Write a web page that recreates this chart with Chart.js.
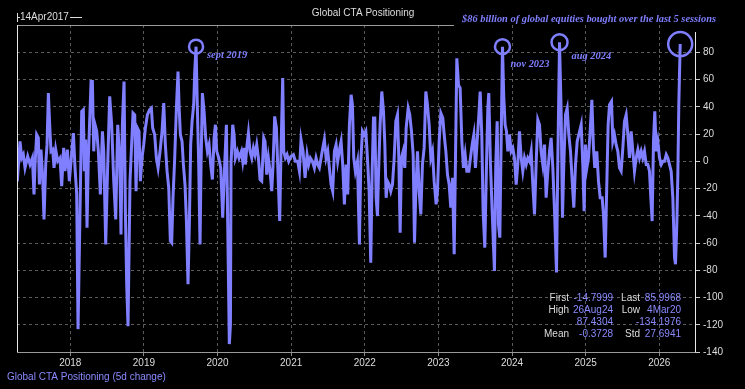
<!DOCTYPE html>
<html>
<head>
<meta charset="utf-8">
<script src="https://cdn.jsdelivr.net/npm/chart.js@4.4.1/dist/chart.umd.min.js"></script>
<style>
  html, body { margin: 0; padding: 0; background: #000; }
  #wrap { width: 745px; height: 389px; }
</style>
</head>
<body>
<div id="wrap"><canvas id="ctaChart" width="745" height="389"></canvas></div>
<script>
// dates as decimal years, values = 5d change in CTA positioning ($bn)
const dates = [
  2017.280, 2017.317, 2017.340, 2017.362, 2017.385, 2017.421, 2017.453, 2017.485, 2017.507, 2017.521,
  2017.543, 2017.566, 2017.580, 2017.602, 2017.625, 2017.643, 2017.666, 2017.684, 2017.702, 2017.720,
  2017.738, 2017.761, 2017.779, 2017.802, 2017.829, 2017.860, 2017.883, 2017.910, 2017.928, 2017.960,
  2017.987, 2018.010, 2018.042, 2018.064, 2018.087, 2018.105, 2018.123, 2018.141, 2018.155, 2018.177,
  2018.191, 2018.209, 2018.227, 2018.245, 2018.263, 2018.282, 2018.300, 2018.318, 2018.336, 2018.359,
  2018.381, 2018.408, 2018.436, 2018.454, 2018.481, 2018.508, 2018.535, 2018.562, 2018.590, 2018.617,
  2018.644, 2018.671, 2018.689, 2018.707, 2018.730, 2018.748, 2018.766, 2018.784, 2018.811, 2018.829,
  2018.852, 2018.875, 2018.893, 2018.911, 2018.933, 2018.952, 2018.974, 2018.997, 2019.020, 2019.047,
  2019.078, 2019.101, 2019.119, 2019.146, 2019.169, 2019.192, 2019.219, 2019.246, 2019.269, 2019.291,
  2019.314, 2019.337, 2019.359, 2019.377, 2019.395, 2019.418, 2019.441, 2019.463, 2019.477, 2019.495,
  2019.518, 2019.536, 2019.558, 2019.577, 2019.599, 2019.617, 2019.635, 2019.654, 2019.676, 2019.690,
  2019.708, 2019.726, 2019.744, 2019.762, 2019.776, 2019.794, 2019.817, 2019.839, 2019.862, 2019.885,
  2019.907, 2019.930, 2019.953, 2019.971, 2019.989, 2020.016, 2020.043, 2020.070, 2020.097, 2020.120,
  2020.160, 2020.175, 2020.183, 2020.206, 2020.224, 2020.242, 2020.269, 2020.292, 2020.324, 2020.342,
  2020.364, 2020.378, 2020.401, 2020.419, 2020.441, 2020.464, 2020.487, 2020.509, 2020.532, 2020.555,
  2020.577, 2020.600, 2020.627, 2020.645, 2020.668, 2020.690, 2020.713, 2020.736, 2020.754, 2020.776,
  2020.799, 2020.817, 2020.844, 2020.862, 2020.885, 2020.899, 2020.921, 2020.944, 2020.967, 2020.998,
  2021.030, 2021.057, 2021.089, 2021.112, 2021.134, 2021.161, 2021.189, 2021.216, 2021.238, 2021.261,
  2021.288, 2021.315, 2021.338, 2021.361, 2021.383, 2021.406, 2021.429, 2021.451, 2021.474, 2021.497,
  2021.519, 2021.542, 2021.564, 2021.587, 2021.610, 2021.632, 2021.660, 2021.678, 2021.700, 2021.723,
  2021.746, 2021.768, 2021.791, 2021.814, 2021.832, 2021.850, 2021.872, 2021.900, 2021.927, 2021.946,
  2021.968, 2021.991, 2022.014, 2022.036, 2022.059, 2022.081, 2022.100, 2022.118, 2022.136, 2022.154,
  2022.172, 2022.186, 2022.208, 2022.231, 2022.254, 2022.272, 2022.290, 2022.308, 2022.331, 2022.353,
  2022.376, 2022.399, 2022.421, 2022.444, 2022.462, 2022.480, 2022.498, 2022.521, 2022.543, 2022.562,
  2022.589, 2022.611, 2022.634, 2022.657, 2022.675, 2022.693, 2022.716, 2022.738, 2022.761, 2022.783,
  2022.806, 2022.829, 2022.851, 2022.874, 2022.897, 2022.919, 2022.942, 2022.969, 2022.987, 2023.010,
  2023.033, 2023.060, 2023.078, 2023.101, 2023.123, 2023.146, 2023.168, 2023.191, 2023.214, 2023.232,
  2023.250, 2023.273, 2023.295, 2023.318, 2023.340, 2023.363, 2023.386, 2023.413, 2023.435, 2023.458,
  2023.481, 2023.503, 2023.526, 2023.549, 2023.567, 2023.589, 2023.607, 2023.630, 2023.653, 2023.671,
  2023.684, 2023.707, 2023.730, 2023.761, 2023.779, 2023.798, 2023.816, 2023.834, 2023.852, 2023.870,
  2023.888, 2023.906, 2023.924, 2023.943, 2023.965, 2023.988, 2024.010, 2024.033, 2024.056, 2024.078,
  2024.101, 2024.124, 2024.146, 2024.169, 2024.192, 2024.214, 2024.237, 2024.260, 2024.282, 2024.305,
  2024.327, 2024.350, 2024.373, 2024.395, 2024.418, 2024.441, 2024.463, 2024.486, 2024.509, 2024.531,
  2024.554, 2024.577, 2024.604, 2024.622, 2024.645, 2024.667, 2024.685, 2024.703, 2024.726, 2024.749,
  2024.771, 2024.794, 2024.817, 2024.839, 2024.862, 2024.885, 2024.907, 2024.939, 2024.961, 2024.979,
  2024.997, 2025.016, 2025.038, 2025.061, 2025.084, 2025.106, 2025.124, 2025.151, 2025.174, 2025.197,
  2025.224, 2025.242, 2025.265, 2025.287, 2025.305, 2025.324, 2025.351, 2025.369, 2025.391, 2025.414,
  2025.437, 2025.459, 2025.482, 2025.505, 2025.527, 2025.550, 2025.573, 2025.595, 2025.618, 2025.641,
  2025.663, 2025.686, 2025.709, 2025.731, 2025.754, 2025.776, 2025.799, 2025.822, 2025.844, 2025.867,
  2025.885, 2025.903, 2025.921, 2025.939, 2025.958, 2025.980, 2026.003, 2026.026, 2026.048, 2026.071,
  2026.094, 2026.116, 2026.139, 2026.161, 2026.184, 2026.207, 2026.220, 2026.238, 2026.252, 2026.265,
  2026.284
];

const values = [
  -14.8, 14.6, 2.4, 4.9, -4.9, 3.7, -2.4, 2.4, -24.4, -2.4,
  19.5, 17.1, -17.1, 8.5, -12.2, -42.7, -2.4, 12.2, 50.0, 26.8,
  7.3, 8.5, -4.9, 8.5, 0, 2.4, -18.3, 9.8, -7.3, 8.5,
  -14.6, 0, 20.7, -4.9, -24.4, -123.2, -65.9, -7.3, 36.6, 37.8,
  -7.3, 15.9, -48.8, 2.4, 29.3, 58.5, 58.5, 7.3, 26.8, 22,
  7.3, -24.4, 22, 7.3, -61, -2.4, 47.6, 26.8, -14.6, -42.7,
  26.8, 2.4, -53.7, 26.8, 58.5, -36.6, -90.2, -121, -14.6, 7.3,
  35.4, 34.1, -22, 24.4, 22, -14.6, 2.4, 12.2, 24.4, 34.1,
  37.8, 39, 24.4, 19.5, 2.4, -4.9, 7.3, 22, 42.7, 12.2,
  -7.3, -19.5, -58.5, -59.8, -26.8, 2.4, 39, 65.9, 41.5, 19.5,
  14.6, -2.4, -17.1, -43.9, -90.2, -46.3, 12.2, 29.3, 41.5, 65.9,
  84.1, 39, -2.4, -61, -2.4, 50, 36.6, 17.1, 7.3, 12.2,
  -2.4, -13.4, 17.1, 26.8, 7.3, 2.4, -4.9, -41.5, -2.4, 26.8,
  -134.2, -120, -2.4, 26.8, 19.5, 2.4, 7.3, 2.4, 7.3, 0,
  9.8, -2.4, 12.2, 20.7, 7.3, 2.4, 9.8, 4.9, 12.2, 2.4,
  -13.4, -14.6, 17.1, 14.6, -9.8, 2.4, -7.3, -22, -2.4, 32.9,
  24.4, -2.4, -43.9, 7.3, 61, 7.3, 2.4, 4.9, 0, 3.7,
  4.9, 0, 0, -7.3, 15.9, 7.3, -12.2, 4.9, -2.4, 2.4,
  0, -4.9, 2.4, -2.4, -4.9, 2.4, 9.8, 15.9, 2.4, 7.3,
  -4.9, -17.1, -22, 7.3, 12.2, 0, 9.8, 14.6, -2.4, -31.7,
  -2.4, -24.4, 26.8, 48.8, 41.5, 2.4, -7.3, 0, -61, 0,
  22, 19.5, 22, 2.4, -22, -74.4, -7.3, 31.7, 31.7, -26.8,
  -40.2, -9.8, 26.8, 51.2, 36.6, 12.2, -26.8, -14.6, -17.1, -22,
  -17.1, 2.4, 29.3, 34.1, 2.4, -52.4, 2.4, 7.3, -4.9, 24.4,
  39, 34.1, 22, 4.9, -59.8, -22, 7.3, -22, -39, -2.4,
  9.8, 51.2, 41.5, 26.8, 2.4, 7.3, -14.6, -31.7, -22, 14.6,
  35.4, 31.7, 19.5, 7.3, -9.8, -17.1, -34.1, -12.2, -68.3, 2.4,
  75.6, 56.1, 53.7, 14.6, -4.9, 4.9, -7.3, -7.3, 2.4, 12.2,
  19.5, -4.9, 14.6, 34.1, 51.2, 19.5, -36.6, -63.4, -2.4, 39,
  50, -2.4, -36.6, -80.5, -2.4, 29.3, -46.3, -56.1, 14.6, 84.1,
  46.3, 26.8, 22, 7.3, 19.5, 7.3, 9.8, 2.4, -17.1, -2.4,
  22, 2.4, -7.3, 2.4, -2.4, 2.4, 0, 7.3, -17.1, -39,
  -2.4, 30.5, 26.8, 7.3, -2.4, 12.2, -26.8, -7.3, 7.3, 17.1,
  -4.9, -36.6, -81.7, 2.4, 87.4, 36.6, -41.5, -2.4, 34.1, 39,
  19.5, 7.3, -14.6, -34.1, -2.4, 14.6, 19.5, 26.8, -2.4, -36.6,
  12.2, -4.9, 2.4, 22, 45.1, 9.8, -4.9, 7.3, -14.6, -26.8,
  -26.8, -39, -70.7, -17.1, 26.8, 41.5, 43.9, 14.6, 19.5, 12.2,
  7.3, -4.9, -7.3, 9.8, 29.3, 34.1, 19.5, 2.4, 22, 7.3,
  -7.3, 2.4, 8.5, 2.4, 7.3, 2.4, 7.3, -2.4, -2.4, -7.3,
  -26.8, -43.9, 14.6, 36.6, 7.3, 14.6, 2.4, -2.4, 0, 0,
  4.9, 2.4, -2.4, -7.3, -26.8, -70.7, -75.6, -46.3, -9.8, 41.5,
  86.0
];

const yearTicks = [2018, 2019, 2020, 2021, 2022, 2023, 2024, 2025, 2026];

// circled peaks and their notes
const noteDates = [2019.708, 2023.870, 2024.645, 2026.284];
const noteLabels = ['sept 2019', 'nov 2023', 'aug 2024', ''];

const statRows = [
  ['First', '-14.7999', 'Last', '85.9968'],
  ['High', '26Aug24', 'Low', '4Mar20'],
  ['', '87.4304', '', '-134.1976'],
  ['Mean', '-0.3728', 'Std', '27.6941']
];

const lineColor = '#7f7fff';
const gridColor = '#5a5a5a';
const textColor = '#dddddd';
const sans = '"Liberation Sans", Arial, sans-serif';
const serif = '"Liberation Serif", "Times New Roman", serif';

const decor = {
  id: 'decor',
  afterDraw(chart) {
    const c = chart.ctx;
    const a = chart.chartArea;
    const xs = chart.scales.x, ys = chart.scales.y;
    c.save();

    // frame
    c.lineWidth = 1;
    c.strokeStyle = '#9a9a9a';
    c.beginPath(); c.moveTo(a.left, 25.5); c.lineTo(454, 25.5); c.stroke();
    c.beginPath(); c.moveTo(a.left, a.bottom + 0.5); c.lineTo(a.right, a.bottom + 0.5); c.stroke();
    c.strokeStyle = '#e8e8e8';
    c.beginPath(); c.moveTo(a.left + 0.5, a.top); c.lineTo(a.left + 0.5, a.bottom); c.stroke();
    c.beginPath(); c.moveTo(a.right + 0.5, 32); c.lineTo(a.right + 0.5, a.bottom); c.stroke();

    // header
    c.fillStyle = textColor;
    c.font = '10px ' + sans;
    c.textBaseline = 'middle';
    c.textAlign = 'left';
    c.fillText('14Apr2017', 20, 17);
    c.strokeStyle = textColor;
    c.beginPath(); c.moveTo(17.5, 13); c.lineTo(17.5, 22); c.moveTo(17, 17.5); c.lineTo(20, 17.5);
    c.moveTo(70, 17.5); c.lineTo(82, 17.5); c.stroke();
    c.textAlign = 'center';
    c.fillText('Global CTA Positioning', 363, 13);

    c.fillStyle = lineColor;
    c.font = 'italic bold 10.4px ' + serif;
    c.textAlign = 'left';
    c.fillText('$86 billion of global equities bought over the last 5 sessions', 462, 19);

    // circles + labels
    const offs = [[11, 9], [8, 18], [12, 14]];
    const radii = [7, 7.5, 8, 12];
    noteDates.forEach((d, i) => {
      const idx = dates.indexOf(d);
      const cx = xs.getPixelForValue(d);
      const cy = ys.getPixelForValue(values[idx]);
      c.strokeStyle = lineColor;
      c.lineWidth = 2.5;
      c.beginPath(); c.arc(cx, cy, radii[i], 0, Math.PI * 2); c.stroke();
      if (noteLabels[i]) {
        c.fillStyle = lineColor;
        c.fillText(noteLabels[i], cx + offs[i][0], cy + offs[i][1]);
      }
    });

    // stats box
    c.font = '10px ' + sans;
    c.textAlign = 'right';
    const colX = [569, 613, 640, 681];
    const rowY = [298, 310.5, 322.5, 334.5];
    statRows.forEach((r, j) => {
      r.forEach((t, k) => {
        c.fillStyle = (k % 2 === 0) ? textColor : '#8a8aff';
        c.fillText(t, colX[k], rowY[j]);
      });
    });

    // legend
    c.textAlign = 'left';
    c.fillStyle = '#8a8aff';
    c.fillText('Global CTA Positioning (5d change)', 7, 377);
    c.restore();
  }
};

const ctx = document.getElementById('ctaChart').getContext('2d');
const chart = new Chart(ctx, {
  type: 'line',
  data: {
    datasets: [{
      label: 'Global CTA Positioning (5d change)',
      data: dates.map((d, i) => ({ x: d, y: values[i] })),
      borderColor: lineColor,
      borderWidth: 3,
      pointRadius: 0,
      tension: 0
    }]
  },
  options: {
    responsive: false,
    animation: false,
    layout: { padding: { left: 17, top: 25, right: 0, bottom: 22 } },
    plugins: { legend: { display: false }, tooltip: { enabled: false } },
    scales: {
      x: {
        type: 'linear',
        min: 2017.276,
        max: 2026.485,
        afterBuildTicks: s => { s.ticks = yearTicks.map(v => ({ value: v })); },
        ticks: {
          autoSkip: false, maxRotation: 0, color: textColor, padding: 1,
          font: { family: sans, size: 10 },
          callback: v => String(v)
        },
        grid: { color: gridColor, tickColor: '#888', tickLength: 4 },
        border: { display: false, dash: [3, 3] },
        afterFit: s => { s.height = 15; }
      },
      y: {
        position: 'right',
        min: -140,
        max: 100,
        ticks: {
          stepSize: 20, color: textColor, padding: 3,
          font: { family: sans, size: 10 },
          callback: v => (v === 100 ? '' : String(v))
        },
        grid: {
          color: g => (g.tick && (g.tick.value === 100 || g.tick.value === -140) ? 'rgba(0,0,0,0)' : gridColor),
          tickColor: g => (g.tick && g.tick.value === 100 ? 'rgba(0,0,0,0)' : '#cccccc'),
          tickLength: 5
        },
        border: { display: false, dash: [3, 3] },
        afterFit: s => { s.width = 50; }
      }
    }
  },
  plugins: [decor]
});
</script>
</body>
</html>
